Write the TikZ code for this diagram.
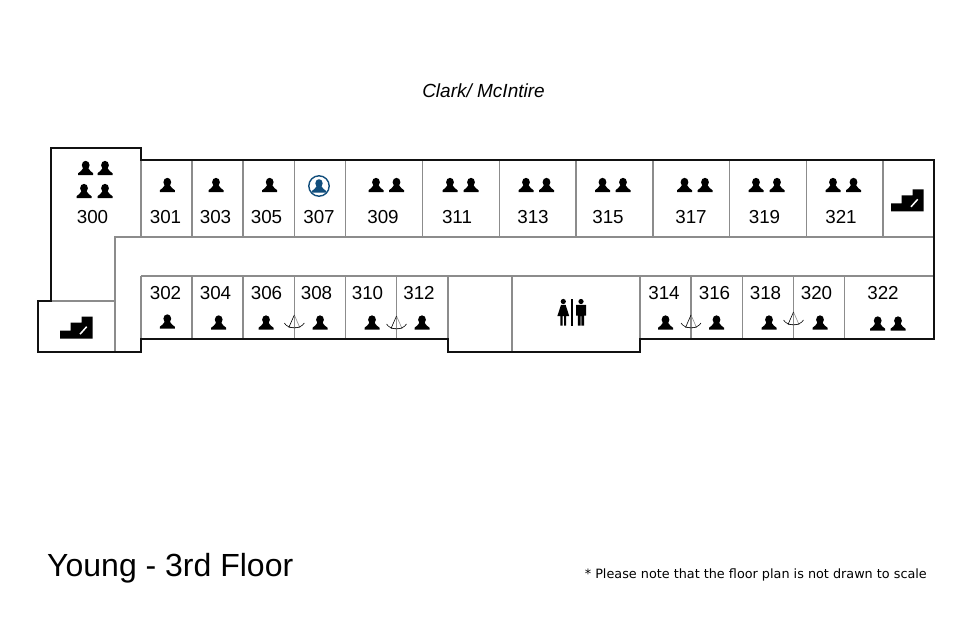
\documentclass[tikz,border=0pt]{standalone}
\usepackage{fontspec}
\setmainfont{Liberation Sans}
\newfontfamily\notefont{DejaVu Sans}
\definecolor{colorWall}{HTML}{111111}
\definecolor{colorInner}{HTML}{8C8C8C}
\definecolor{colorBlue}{HTML}{124E7C}
\tikzset{
    wall/.style={colorWall, line width=2pt, line join=miter},
    inner/.style={colorInner, line width=1.1pt},
    room/.style={inner sep=0pt, font=\fontsize{18.8}{20}\selectfont},
    person/.pic={
        \fill (0,-2.8) ellipse (3.9 and 4.4);
        \fill (-7.5,7) -- (-7.5,5.2) .. controls (-6.5,3.2) and (-3,3.4) .. (-2.4,0)
            -- (2.4,0) .. controls (3,3.4) and (6.5,3.2) .. (7.5,5.2) -- (7.5,7) -- cycle;
    },
    swing/.pic={
        \draw[colorInner, line width=.6pt] (0,0) -- (5.5,12.5) -- (-5.5,12.5);
        \draw[black, line width=.6pt] (-10,8) .. controls (-6,14.5) and (6,14.5) .. (10,8);
        \draw[black, line width=.6pt] (0,0) -- (-5.5,12.5);
    },
    stairs/.pic={
        \fill (0,22) -- (0,14) -- (10.7,14) -- (10.7,6) -- (21.7,6) -- (21.7,0) -- (32.7,0) -- (32.7,22) -- cycle;
        \draw[white, line width=1.5pt] (20,17.5) -- (26.7,10);
    }
}
\begin{document}
\begin{tikzpicture}[x=1pt, y=-1pt]
    \useasboundingbox (0,0) rectangle (979,634);
    % corridor and room lines
    \draw[inner] (115,352) -- (115,237) -- (934,237);
    \draw[inner] (141,276) -- (934,276);
    \draw[inner] (38,301) -- (115,301);
    \draw[inner] (141,160) -- (141,237);
    \draw[inner] (141,276) -- (141,339);
    \draw[inner] (192,160) -- (192,237);
    \draw[inner] (243,160) -- (243,237);
    \draw[inner] (294.5,160) -- (294.5,237);
    \draw[inner] (345.5,160) -- (345.5,237);
    \draw[inner] (422.5,160) -- (422.5,237);
    \draw[inner] (499.5,160) -- (499.5,237);
    \draw[inner] (576,160) -- (576,237);
    \draw[inner] (653,160) -- (653,237);
    \draw[inner] (729.5,160) -- (729.5,237);
    \draw[inner] (806.5,160) -- (806.5,237);
    \draw[inner] (883,160) -- (883,237);
    \draw[inner] (192,276) -- (192,339);
    \draw[inner] (243,276) -- (243,339);
    \draw[inner] (294.5,276) -- (294.5,339);
    \draw[inner] (345.5,276) -- (345.5,339);
    \draw[inner] (396.5,276) -- (396.5,339);
    \draw[inner] (448,276) -- (448,339);
    \draw[inner] (512,276) -- (512,352);
    \draw[inner] (640,276) -- (640,339);
    \draw[inner] (691,276) -- (691,339);
    \draw[inner] (742.5,276) -- (742.5,339);
    \draw[inner] (793.5,276) -- (793.5,339);
    \draw[inner] (844.5,276) -- (844.5,339);
    % outer walls
    \draw[wall] (51,301) -- (51,147.5) -- (140.7,147.5) -- (140.7,160) -- (934,160) -- (934,339.3)
        -- (640,339.3) -- (640,352) -- (448,352) -- (448,339.3) -- (140.7,339.3) -- (140.7,352)
        -- (38,352) -- (38,301) -- cycle;
    % rooms
    \node[room] (r300) at (92.5,217) {300};
    \node[room] (r301) at (165.5,217) {301};
    \node[room] (r303) at (215.5,217) {303};
    \node[room] (r305) at (266.5,217) {305};
    \node[room] (r307) at (319,217) {307};
    \node[room] (r309) at (383,217) {309};
    \node[room] (r311) at (457,217) {311};
    \node[room] (r313) at (533,217) {313};
    \node[room] (r315) at (608,217) {315};
    \node[room] (r317) at (691,217) {317};
    \node[room] (r319) at (764.5,217) {319};
    \node[room] (r321) at (841,217) {321};
    \node[room] (r302) at (165.5,293.5) {302};
    \node[room] (r304) at (215.5,293.5) {304};
    \node[room] (r306) at (266.5,293.5) {306};
    \node[room] (r308) at (316.5,293.5) {308};
    \node[room] (r310) at (367.5,293.5) {310};
    \node[room] (r312) at (419,293.5) {312};
    \node[room] (r314) at (664,293.5) {314};
    \node[room] (r316) at (714.5,293.5) {316};
    \node[room] (r318) at (765.5,293.5) {318};
    \node[room] (r320) at (816.5,293.5) {320};
    \node[room] (r322) at (883,293.5) {322};
    % people
    \pic at (85.7,168) {person};
    \pic at (105,168) {person};
    \pic at (84,191) {person};
    \pic at (105,191) {person};
    \pic at (167.3,185) {person};
    \pic at (216,185) {person};
    \pic at (269.7,185) {person};
    \pic at (376,185) {person};
    \pic at (396.5,185) {person};
    \pic at (450,185) {person};
    \pic at (471,185) {person};
    \pic at (526,185) {person};
    \pic at (546.5,185) {person};
    \pic at (602.5,185) {person};
    \pic at (623,185) {person};
    \pic at (684.5,185) {person};
    \pic at (705,185) {person};
    \pic at (756,185) {person};
    \pic at (777,185) {person};
    \pic at (833,185) {person};
    \pic at (853.5,185) {person};
    \pic at (167.3,321.5) {person};
    \pic at (218.7,322.5) {person};
    \pic at (266,322.5) {person};
    \pic at (320,322.5) {person};
    \pic at (372,322.5) {person};
    \pic at (422,322.5) {person};
    \pic at (665.5,322.5) {person};
    \pic at (716.5,322.5) {person};
    \pic at (769,322.5) {person};
    \pic at (820,322.5) {person};
    \pic at (877.7,323.5) {person};
    \pic at (898,323.5) {person};
    % occupied room 307
    \draw[colorBlue, line width=1.4pt] (319,186) circle (10.2);
    \pic[colorBlue, scale=.95] at (319,186) {person};
    % doors
    \pic at (294.3,315) {swing};
    \pic at (396.5,316) {swing};
    \pic at (691,315) {swing};
    \pic at (793.5,312) {swing};
    % stairs
    \pic at (60,316.7) {stairs};
    \pic at (891,189.3) {stairs};
    % restrooms
    \fill (563.3,301.5) circle (2.6);
    \fill (561,304.8) -- (565.6,304.8) -- (569.2,316) -- (566.2,316) -- (566.2,325.7) -- (564,325.7) -- (564,316)
        -- (562.6,316) -- (562.6,325.7) -- (560.4,325.7) -- (560.4,316) -- (557.4,316) -- cycle;
    \fill (571,299.3) rectangle (572.8,325.7);
    \fill (581,301.5) circle (2.6);
    \fill (576,304.8) -- (586,304.8) -- (586,315.5) -- (584.2,315.5) -- (584.2,325.7) -- (581.4,325.7) -- (581.4,316)
        -- (580.6,316) -- (580.6,325.7) -- (577.8,325.7) -- (577.8,315.5) -- (576,315.5) -- cycle;
    % titles
    \node[inner sep=0pt, font=\fontsize{19}{20}\selectfont\itshape] (street) at (483.5,91) {Clark/ McIntire};
    \node[inner sep=0pt, anchor=west, font=\fontsize{32}{36}\selectfont] (title) at (47,568) {Young - 3rd Floor};
    \node[inner sep=0pt, anchor=east, font=\fontsize{12.8}{15}\selectfont\notefont] (note) at (927,575) {* Please note that the floor plan is not drawn to scale};
\end{tikzpicture}
\end{document}
